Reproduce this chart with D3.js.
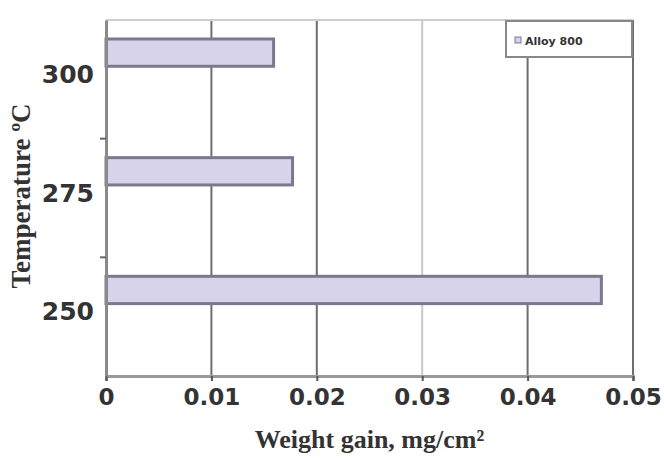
<!DOCTYPE html>
<html>
<head>
<meta charset="utf-8">
<script src="https://cdn.jsdelivr.net/npm/d3@7"></script>
<style>
  body { margin: 0; background: #fff; }
</style>
</head>
<body>
<svg id="chart" width="664" height="460"></svg>
<script>
"use strict"

// temperatures (top to bottom) and weight gain values
var temperatures = ["300", "275", "250"];
var weightGain = [0.0159, 0.0177, 0.0470];
var xTicks = [0, 0.01, 0.02, 0.03, 0.04, 0.05];
var seriesName = "Alloy 800";

var margin = { left: 106, right: 31, top: 20, bottom: 84 };
var W = 664, H = 460;

var svg = d3.select("#chart");

var x = d3.scaleLinear().domain([0, 0.05]).range([margin.left, W - margin.right]);
var y = d3.scaleBand().domain(temperatures).range([margin.top, H - margin.bottom]);

// bar sits in upper part of its band (second empty series slot below)
var barOffset = 0.16, barSize = 0.23;

// gridlines
svg.append("g").selectAll("line").data(xTicks.slice(1)).enter().append("line")
    .attr("x1", function(d) { return x(d); })
    .attr("x2", function(d) { return x(d); })
    .attr("y1", margin.top)
    .attr("y2", H - margin.bottom)
    .attr("stroke", function(d, i) { return i == 2 ? "#c8c8c8" : "#6e6e6e"; })
    .attr("stroke-width", 2);

// top border
svg.append("line")
    .attr("x1", margin.left).attr("x2", W - margin.right)
    .attr("y1", margin.top).attr("y2", margin.top)
    .attr("stroke", "#cfcfcf").attr("stroke-width", 2);

// bars
svg.append("g").selectAll("rect").data(weightGain).enter().append("rect")
    .attr("x", x(0))
    .attr("y", function(d, i) { return y(temperatures[i]) + y.bandwidth() * barOffset; })
    .attr("width", function(d) { return x(d) - x(0); })
    .attr("height", y.bandwidth() * barSize)
    .attr("fill", "#d6d3ea")
    .attr("stroke", "#7c798f")
    .attr("stroke-width", 3);

// x axis
var xAxis = svg.append("g")
    .attr("transform", "translate(0," + (H - margin.bottom) + ")")
    .call(d3.axisBottom(x).tickValues(xTicks).tickFormat(function(d) { return d === 0 ? "0" : d3.format(".2f")(d); }).tickSize(5).tickPadding(8));
xAxis.select(".domain").attr("stroke", "#999").attr("stroke-width", 3);
xAxis.selectAll(".tick line").attr("stroke", "#555").attr("stroke-width", 2);
xAxis.selectAll("text")
    .attr("font-family", "DejaVu Sans")
    .attr("font-weight", "bold")
    .attr("font-size", 23)
    .attr("fill", "#333");

// y axis
var yAxis = svg.append("g")
    .attr("transform", "translate(" + margin.left + ",0)")
    .call(d3.axisLeft(y).tickSize(0).tickPadding(12));
yAxis.select(".domain").attr("stroke", "#8a8a8a").attr("stroke-width", 3);
yAxis.selectAll("text")
    .attr("font-family", "DejaVu Sans")
    .attr("font-weight", "bold")
    .attr("font-size", 25)
    .attr("fill", "#333")
    .attr("dy", "0.15em");
// band dividers
yAxis.append("g").selectAll("line").data(temperatures.slice(1)).enter().append("line")
    .attr("x1", -6).attr("x2", 0)
    .attr("y1", function(d) { return y(d); })
    .attr("y2", function(d) { return y(d); })
    .attr("stroke", "#666").attr("stroke-width", 2);

// axis titles
svg.append("text")
    .attr("x", (x(0) + x(0.05)) / 2)
    .attr("y", 448)
    .attr("text-anchor", "middle")
    .attr("font-family", "Liberation Serif")
    .attr("font-weight", "bold")
    .attr("font-size", 26)
    .attr("fill", "#333")
    .text("Weight gain, mg/cm²");

svg.append("text")
    .attr("transform", "translate(30," + 196 + ") rotate(-90)")
    .attr("text-anchor", "middle")
    .attr("font-family", "Liberation Serif")
    .attr("font-weight", "bold")
    .attr("font-size", 27)
    .attr("fill", "#333")
    .text("Temperature ºC");

// legend
var lg = svg.append("g");
lg.append("rect")
    .attr("x", 506).attr("y", 21).attr("width", 126).attr("height", 36)
    .attr("fill", "#fff").attr("stroke", "#888").attr("stroke-width", 2);
lg.append("rect")
    .attr("x", 515).attr("y", 37).attr("width", 6).attr("height", 6)
    .attr("fill", "#d6d3ea").attr("stroke", "#7c798f").attr("stroke-width", 1);
lg.append("text")
    .attr("x", 525).attr("y", 45)
    .attr("font-family", "DejaVu Sans")
    .attr("font-weight", "bold")
    .attr("font-size", 11)
    .attr("fill", "#333")
    .text(seriesName);
</script>
</body>
</html>
